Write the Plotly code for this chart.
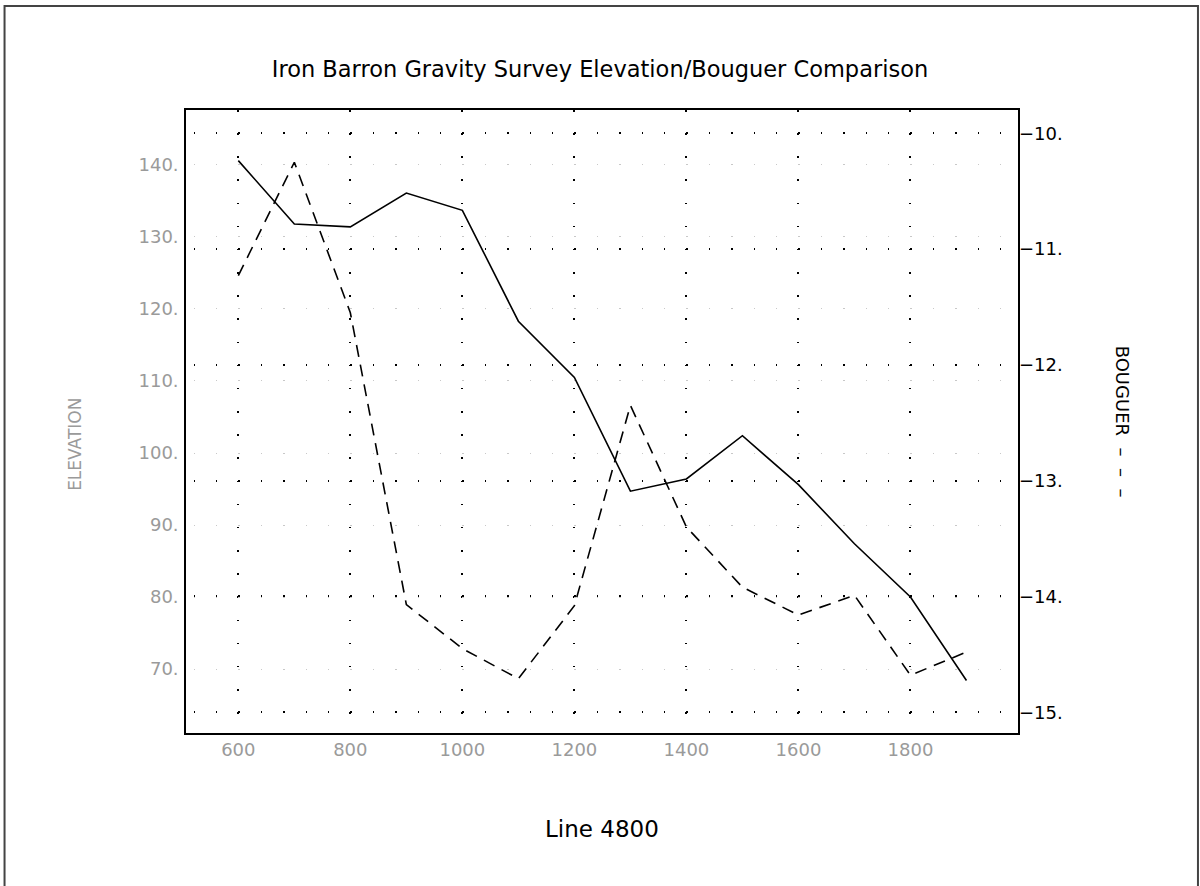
import plotly.graph_objects as go

# station positions along Line 4800
stations = [600, 700, 800, 900, 1000, 1100, 1200, 1300, 1400, 1500, 1600, 1700, 1800, 1900]
elevation = [140.6, 131.8, 131.4, 136.1, 133.7, 118.3, 110.5, 94.7, 96.4, 102.4, 95.6, 87.4, 80.0, 68.4]
bouguer = [-11.23, -10.25, -11.55, -14.07, -14.45, -14.71, -14.08, -12.35, -13.40, -13.92,
           -14.16, -13.99, -14.68, -14.48]

x_ticks = [600, 800, 1000, 1200, 1400, 1600, 1800]
elev_ticks = [70, 80, 90, 100, 110, 120, 130, 140]
boug_ticks = [-15, -14, -13, -12, -11, -10]

FONT = "DejaVu Sans, sans-serif"
GRAY = "#9a9a9a"
NB = "\u00a0"

fig = go.Figure()
fig.add_trace(go.Scatter(x=stations, y=elevation, mode="lines", name="ELEVATION",
                         line=dict(color="black", width=1.6), yaxis="y"))
fig.add_trace(go.Scatter(x=stations, y=bouguer, mode="lines", name="BOUGUER",
                         line=dict(color="black", width=1.6, dash="12px,8px"), yaxis="y2"))

fig.update_layout(
    width=1200, height=886,
    margin=dict(l=186, r=182, t=110, b=153),
    paper_bgcolor="white", plot_bgcolor="white",
    showlegend=False,
    title=dict(text="Iron Barron Gravity Survey Elevation/Bouguer Comparison",
               x=0.5, xanchor="center", y=0.922, yanchor="middle",
               font=dict(family=FONT, size=22.5, color="black")),
    xaxis=dict(range=[506.6, 1992], tickvals=x_ticks, ticktext=[str(v) for v in x_ticks],
               showline=True, linecolor="black", linewidth=1.6, mirror=True,
               ticks="", tickfont=dict(family=FONT, size=18, color=GRAY),
               showgrid=True, gridcolor="black", gridwidth=1.5, griddash="1.5px,21.66px",
               zeroline=False),
    yaxis=dict(range=[61.12, 147.63], tickvals=elev_ticks, ticktext=[f"{v}." for v in elev_ticks],
               showline=True, linecolor="black", linewidth=1.6, mirror=True,
               ticks="outside", ticklen=2, tickcolor="rgba(0,0,0,0)",
               tickfont=dict(family=FONT, size=18, color=GRAY),
               showgrid=True, gridcolor="#c8c8c8", gridwidth=1.2,
               griddash="0px,7.5px,1.5px,13.4px", zeroline=False),
    yaxis2=dict(range=[-15.179, -9.799], overlaying="y", side="right",
                tickvals=boug_ticks, ticktext=[f"\u2212{abs(v)}." for v in boug_ticks],
                showline=False, ticks="",
                tickfont=dict(family=FONT, size=18, color="black"),
                showgrid=True, gridcolor="black", gridwidth=1.5,
                griddash="0px,7.5px,1.5px,13.4px", zeroline=False),
    annotations=[
        dict(text="ELEVATION", x=-0.1334, y=0.4625, xref="paper", yref="paper",
             xanchor="center", yanchor="middle",
             textangle=-90, showarrow=False, font=dict(family=FONT, size=17, color=GRAY)),
        dict(text=f"BOUGUER{NB}{NB}\u2013{NB}{NB}\u2013{NB}{NB}\u2013", x=1.126, y=0.50,
             xref="paper", yref="paper", xanchor="center", yanchor="middle",
             textangle=90, showarrow=False, font=dict(family=FONT, size=18, color="black")),
        dict(text="Line 4800", x=0.4994, y=-0.1535, xref="paper", yref="paper",
             xanchor="center", yanchor="middle",
             showarrow=False, font=dict(family=FONT, size=23, color="black")),
    ],
    shapes=[
        # outer page frame
        dict(type="rect", xref="paper", yref="paper", x0=-0.2181, x1=1.2163, y0=-0.27, y1=1.1669,
             line=dict(color="#444444", width=2), layer="below"),
    ],
)

fig.write_html("out.html", config={"displayModeBar": False},
               post_script="document.body.style.margin='0';document.body.style.overflow='hidden';")
